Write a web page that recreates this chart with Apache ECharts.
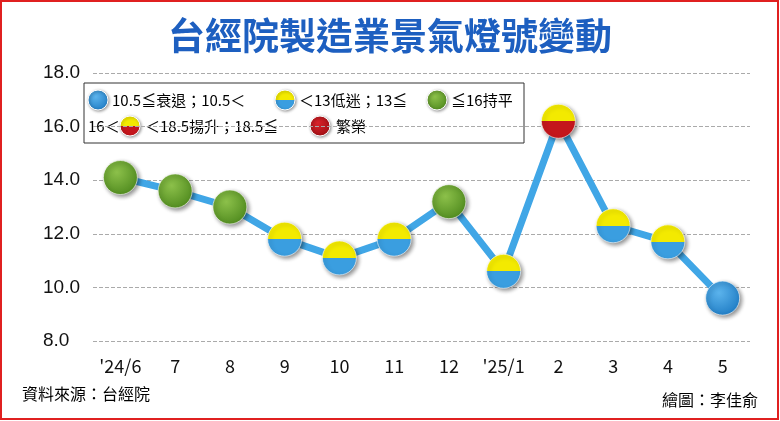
<!DOCTYPE html>
<html><head><meta charset="utf-8">
<script src="https://cdn.jsdelivr.net/npm/echarts@6/dist/echarts.min.js"></script>
<style>html,body{margin:0;padding:0;background:#fff}#c{width:780px;height:421px}</style>
</head><body><div id="c"></div>
<script>
const categories = ["'24/6","7","8","9","10","11","12","'25/1","2","3","4","5"];
const values = [14.1,13.6,13.0,11.8,11.1,11.8,13.2,10.6,16.2,12.3,11.7,9.6];
const lights = ["green","green","green","yellowblue","yellowblue","yellowblue","green","yellowblue","yellowred","yellowblue","yellowblue","blue"];
const yTicks = [8,10,12,14,16,18];

function fill(kind){
  const half=(a,b)=>({type:'linear',x:0,y:0,x2:0,y2:1,colorStops:[{offset:0,color:a},{offset:0.5,color:a},{offset:0.5,color:b},{offset:1,color:b}]});
  if(kind==='green') return {type:'radial',x:0.4,y:0.35,r:0.7,colorStops:[{offset:0,color:'#8cc04a'},{offset:1,color:'#4f8a1e'}]};
  if(kind==='blue') return {type:'radial',x:0.4,y:0.35,r:0.7,colorStops:[{offset:0,color:'#5bb3ec'},{offset:1,color:'#1f7cc4'}]};
  if(kind==='yellowblue') return half('#f3ea00','#3a9ee0');
  if(kind==='yellowred') return half('#f3ea00','#c4161c');
  return {type:'radial',x:0.4,y:0.35,r:0.7,colorStops:[{offset:0,color:'#d8232a'},{offset:1,color:'#a00f14'}]};
}
const ch = echarts.init(document.getElementById('c'));
function lc(x,y,k){return {type:'circle',shape:{cx:x,cy:y,r:10},style:{fill:fill(k),stroke:'#fff',lineWidth:1,shadowBlur:3,shadowColor:'rgba(0,0,0,0.4)',shadowOffsetX:1,shadowOffsetY:1}};}
function lt(x,y,t){return {type:'text',x:x,y:y,style:{text:t,font:'15px "Noto Sans CJK TC"',fill:'#000',verticalAlign:'middle'}};}
ch.setOption({
  animation:false,
  title:{text:'台經院製造業景氣燈號變動',left:'center',top:12,textStyle:{fontFamily:'Noto Sans CJK TC',fontSize:37,fontWeight:'bold',color:'#1d5fc0'}},
  grid:{left:93,right:30,top:73,bottom:80},
  xAxis:{type:'category',data:categories,boundaryGap:true,axisLine:{show:false},axisTick:{show:false},
    axisLabel:{fontFamily:'Noto Sans CJK TC',fontSize:18,color:'#111',margin:16}},
  yAxis:{type:'value',min:8,max:18,interval:2,
    axisLabel:{fontFamily:'Liberation Sans',fontSize:19,color:'#111',formatter:v=>yTicks.includes(v)?v.toFixed(1):'' ,margin:50,align:'left'},
    splitLine:{lineStyle:{type:'dashed',color:'#aaa',width:1}}},
  series:[{type:'line',data:values.map((v,i)=>({value:v,itemStyle:{color:fill(lights[i])}})),
    lineStyle:{color:'#40a6e6',width:7},symbol:'circle',symbolSize:34,
    itemStyle:{borderColor:'rgba(255,255,255,0.6)',borderWidth:1,shadowBlur:4,shadowColor:'rgba(0,0,0,0.45)',shadowOffsetX:2,shadowOffsetY:2}}],
  graphic:[
    {type:'rect',shape:{x:1,y:1,width:777,height:418},style:{fill:'none',stroke:'#e02020',lineWidth:2}},
    {type:'rect',shape:{x:84,y:83,width:440,height:60},style:{fill:'#fff',stroke:'#333',lineWidth:1}},
    lc(98,100,'blue'),lt(112,100,'10.5≦衰退；10.5＜'),
    lc(285,100,'yellowblue'),lt(299,100,'＜13低迷；13≦'),
    lc(437,100,'green'),lt(451,100,'≦16持平'),
    lt(88,126,'16＜'),lc(130,126,'yellowred'),lt(145,126,'＜18.5揚升；18.5≦'),
    lc(320,126,'red'),lt(336,126,'繁榮'),
    {type:'text',left:22,top:386,style:{text:'資料來源：台經院',font:'16px "Noto Sans CJK TC"',fill:'#000'}},
    {type:'text',right:22,top:392,style:{text:'繪圖：李佳俞',font:'16px "Noto Sans CJK TC"',fill:'#000'}}
  ]
});
</script></body></html>
